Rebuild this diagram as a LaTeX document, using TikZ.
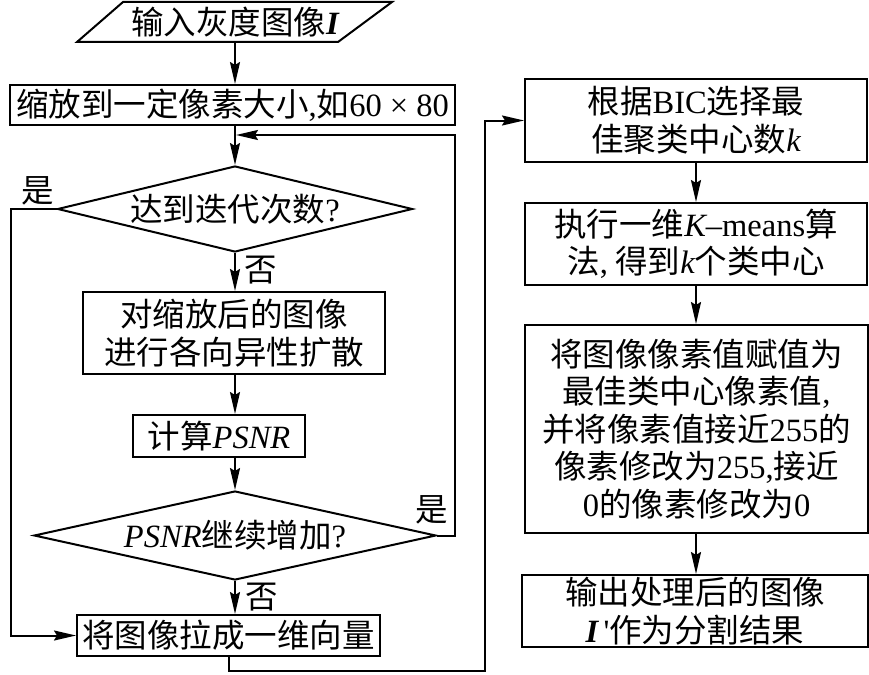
\documentclass[tikz,border=0pt]{standalone}
\usepackage{fontspec}
\setmainfont{Noto Sans CJK SC}
\newfontfamily\lat{Liberation Serif}
\usetikzlibrary{shapes.geometric,arrows.meta,calc}
\newcommand{\fs}{\fontsize{32.5}{37.5}\selectfont}
\newcommand{\rmx}[1]{{\lat #1}}
\newcommand{\itx}[1]{{\lat\itshape #1}}
\newcommand{\bix}[1]{{\lat\bfseries\itshape #1}}
\tikzset{
  ln/.style={line width=2pt},
  box/.style={draw, line width=2pt, inner sep=0pt, align=center, font=\fs},
  dia/.style={diamond, draw, line width=2pt, inner sep=0pt, align=center, font=\fs},
  arr/.style={line width=2pt, -{Stealth[length=22pt,width=10pt,inset=3pt]}},
  lab/.style={inner sep=0pt, font=\fs}
}
\begin{document}
\begin{tikzpicture}[x=1pt,y=-1pt]
\useasboundingbox (0,0) rectangle (869,674);
% left column
\node[inner sep=0pt, minimum width=215pt, minimum height=40pt, font=\fs] (in) at (235,22) {输入灰度图像\bix{I}};
\draw[ln, line join=miter] (77,42) -- (123,2) -- (392,2) -- (338,42) -- cycle;
\node[box, minimum width=445pt, minimum height=40pt] (scale) at (232.5,105) {缩放到一定像素大小\rmx{,}如\rmx{60 × 80}};
\node[dia, aspect=4.128, minimum width=355pt, minimum height=86pt] (d1) at (235,209) {达到迭代次数\rmx{?}};
\node[box, minimum width=302pt, minimum height=82pt] (diff) at (234,333) {对缩放后的图像\\进行各向异性扩散};
\node[box, minimum width=172pt, minimum height=42pt] (psnr) at (219,436) {计算\itx{PSNR}};
\node[dia, aspect=4.517, minimum width=402pt, minimum height=89pt] (d2) at (235,535.5) {\itx{PSNR}继续增加\rmx{?}};
\node[box, minimum width=303pt, minimum height=41pt] (flat) at (228.5,635.5) {将图像拉成一维向量};
% right column
\node[box, minimum width=342pt, minimum height=83pt] (r1) at (696,120.5) {根据\rmx{BIC}选择最\\佳聚类中心数\itx{k}};
\node[box, minimum width=342pt, minimum height=82pt] (r2) at (696,244) {执行一维\itx{K}\rmx{–means}算\\法\rmx{,} 得到\itx{k}个类中心};
\node[box, minimum width=343pt, minimum height=208pt] (r3) at (696.5,429) {将图像像素值赋值为\\最佳类中心像素值\rmx{,}\\并将像素值接近\rmx{255}的\\像素修改为\rmx{255,}接近\\\rmx{0}的像素修改为\rmx{0}};
\node[box, minimum width=346pt, minimum height=72pt] (r4) at (695,611) {输出处理后的图像\\\bix{I}\rmx{\,\textquotesingle}作为分割结果};
% labels
\node[lab] (y1) at (38,191) {是};
\node[lab] (n1) at (261,270) {否};
\node[lab] (y2) at (432,510) {是};
\node[lab] (n2) at (262,597) {否};
% connectors
\coordinate (fb) at (236,135);
\coordinate (bc) at (485,671);
\draw[arr] (in.south) -- (in.south |- scale.north);
\draw[arr] (scale.south -| d1.north) -- (d1.north);
\draw[arr] (d1.south) -- (d1.south |- diff.north);
\draw[arr] (diff.south -| d1.south) -- (d1.south |- psnr.north);
\draw[arr] (psnr.south -| d2.north) -- (d2.north);
\draw[arr] (d2.south) -- (d2.south |- flat.north);
\draw[arr] (d2.east) -- ++(18,0) |- (fb);
\draw[arr] (d1.west) -- ++(-46,0) |- (flat.west);
\draw[arr] (flat.south) |- (bc) |- (r1.west);
\draw[arr] (r1.south) -- (r2.north);
\draw[arr] (r2.south) -- (r3.north -| r2.south);
\draw[arr] (r3.south -| r2.south) -- (r2.south |- r4.north);
\end{tikzpicture}
\end{document}
